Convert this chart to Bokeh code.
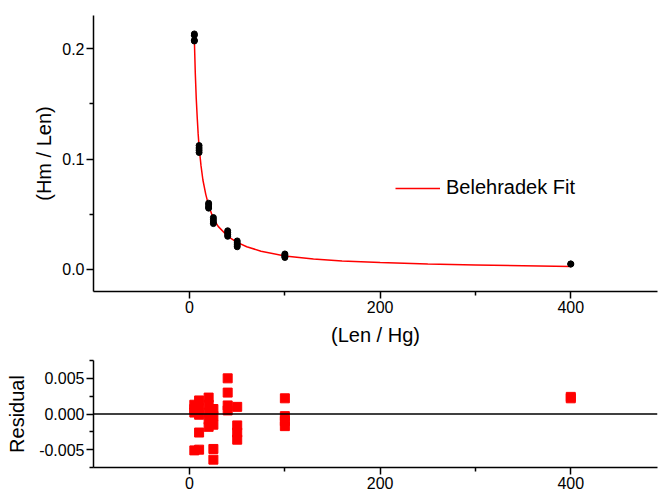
from bokeh.plotting import figure
from bokeh.models import FixedTicker, PrintfTickFormatter, Span, Range1d
from bokeh.layouts import column
from bokeh.embed import file_html
from bokeh.resources import INLINE

# Measured data (Hm/Len vs Len/Hg)
pts_x = [5, 5, 5, 5, 10, 10, 10, 10, 20, 20, 20, 20, 25, 25, 25, 25,
         40, 40, 40, 40, 50, 50, 50, 50, 100, 100, 100, 100, 400, 400]
pts_y = [0.2133, 0.2120, 0.2075, 0.2069, 0.1122, 0.1100, 0.1080, 0.1059,
         0.0600, 0.0585, 0.0565, 0.0555, 0.0470, 0.0450, 0.0430, 0.0415,
         0.0350, 0.0335, 0.0315, 0.0300, 0.0258, 0.0240, 0.0222, 0.0205,
         0.0140, 0.0130, 0.0118, 0.0108, 0.0050, 0.0048]

# Belehradek fit curve
fit_x = [5, 6, 7, 8, 9, 10, 12, 14, 17, 20, 25, 30, 40, 50, 60, 75,
         100, 130, 160, 200, 250, 300, 350, 400]
fit_y = [0.209, 0.178, 0.155, 0.138, 0.123, 0.111, 0.094, 0.081, 0.068,
         0.058, 0.046, 0.039, 0.030, 0.0245, 0.0205, 0.0165, 0.0122,
         0.0094, 0.0077, 0.0062, 0.0049, 0.0040, 0.0033, 0.0027]

# Residuals
res_x = [5, 5, 5, 5, 10, 10, 10, 10, 10, 20, 20, 20, 20, 20,
         25, 25, 25, 25, 25, 40, 40, 40, 40, 50, 50, 50, 50,
         100, 100, 100, 100, 400, 400]
res_y = [0.0013, 0.0007, 0.0002, -0.0051,
         0.0019, 0.0008, -0.0001, -0.0026, -0.0050,
         0.0023, 0.0013, 0.0002, -0.0008, -0.0018,
         0.0007, -0.0003, -0.0015, -0.0049, -0.0064,
         0.0050, 0.0030, 0.0012, 0.0005,
         0.0010, -0.0016, -0.0026, -0.0036,
         0.0022, -0.0003, -0.0010, -0.0017,
         0.0022, 0.0024]

x_ticks = [0, 200, 400]
x_minor = [100, 300]
FONT = "Liberation Sans"


def style_axes(fig):
    fig.outline_line_color = None
    fig.xgrid.grid_line_color = None
    fig.ygrid.grid_line_color = None
    for ax in list(fig.xaxis) + list(fig.yaxis):
        ax.axis_line_width = 1.5
        ax.axis_line_color = "black"
        ax.major_tick_line_width = 1.5
        ax.minor_tick_line_width = 1.5
        ax.major_tick_out = 7
        ax.major_tick_in = 0
        ax.minor_tick_out = 4
        ax.minor_tick_in = 0
        ax.major_label_text_font = FONT
        ax.major_label_text_font_size = "16px"
        ax.major_label_text_color = "black"
        ax.axis_label_text_font = FONT
        ax.axis_label_text_font_size = "20px"
        ax.axis_label_text_font_style = "normal"
        ax.axis_label_text_color = "black"
        ax.major_label_standoff = 2


p = figure(width=659, height=350, x_range=Range1d(-100.8, 491),
           y_range=Range1d(-0.02, 0.23), output_backend="svg",
           toolbar_location=None, min_border_left=93, min_border_right=2,
           min_border_top=15, min_border_bottom=59)
p.line(fit_x, fit_y, line_color="red", line_width=1.5,
       legend_label="Belehradek Fit")
p.scatter(pts_x, pts_y, marker="circle", size=6, color="black")
style_axes(p)
p.xaxis.ticker = FixedTicker(ticks=x_ticks, minor_ticks=x_minor)
p.yaxis.ticker = FixedTicker(ticks=[0.0, 0.1, 0.2], minor_ticks=[0.05, 0.15])
p.yaxis.formatter = PrintfTickFormatter(format="%.1f")
p.xaxis.axis_label = "(Len / Hg)"
p.yaxis.axis_label = "(Hm / Len)"
p.xaxis.axis_label_standoff = 8
p.yaxis.axis_label_standoff = 4

lg = p.legend[0]
lg.location = (302, 92)
lg.padding = 0
lg.margin = 0
lg.spacing = 0
lg.border_line_alpha = 0
lg.background_fill_alpha = 0
lg.glyph_width = 45
lg.glyph_height = 20
lg.label_height = 20
lg.label_standoff = 6
lg.label_text_font = FONT
lg.label_text_font_size = "20px"
lg.label_text_color = "black"

r = figure(width=659, height=144, x_range=Range1d(-100.8, 491),
           y_range=Range1d(-0.0075, 0.0075), output_backend="svg",
           toolbar_location=None, min_border_left=93, min_border_right=2,
           min_border_top=10, min_border_bottom=27)
r.add_layout(Span(location=0, dimension="width", line_color="black",
                  line_width=1.5))
r.scatter(res_x, res_y, marker="square", size=9, color="red")
style_axes(r)
r.xaxis.ticker = FixedTicker(ticks=x_ticks, minor_ticks=x_minor)
r.yaxis.ticker = FixedTicker(ticks=[-0.005, 0.0, 0.005],
                             minor_ticks=[-0.0075, -0.0025, 0.0025, 0.0075])
r.yaxis.formatter = PrintfTickFormatter(format="%.3f")
r.yaxis.axis_label = "Residual"
r.yaxis.axis_label_standoff = 8

layout = column(p, r)
open("out.html", "w").write(file_html(layout, INLINE))
